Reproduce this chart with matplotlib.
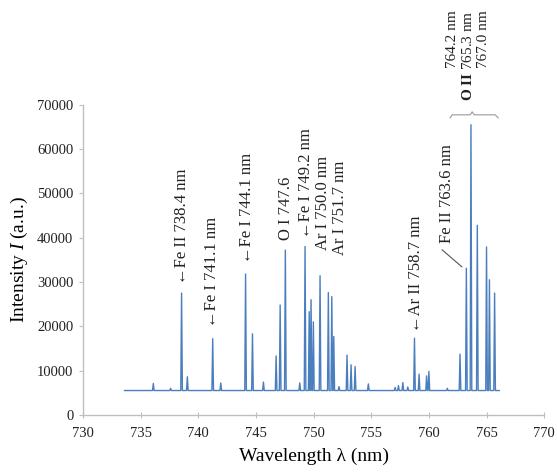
import numpy as np
import matplotlib
matplotlib.use("Agg")
import matplotlib.pyplot as plt

plt.rcParams['font.family'] = ['Liberation Serif', 'DejaVu Serif']
plt.rcParams['mathtext.fontset'] = 'custom'
plt.rcParams['mathtext.rm'] = 'Liberation Serif'
plt.rcParams['mathtext.it'] = 'Liberation Serif:italic'
plt.rcParams['mathtext.bf'] = 'Liberation Serif:bold'

## spectrum data
baseline = 5500
wl_start, wl_end = 733.6, 766.1
peak_wl = [736.1, 737.6, 738.55, 739.05, 741.25, 741.95, 744.1, 744.7, 745.65,
           746.75, 747.1, 747.55, 748.8, 749.26, 749.62, 749.78, 749.98, 750.56,
           751.28, 751.58, 751.75, 752.2, 752.9, 753.25, 753.6, 754.75,
           757.07, 757.36, 757.74, 758.17, 758.75, 759.15, 759.8, 760.0, 761.6,
           762.7, 763.25, 763.65, 764.2, 765.0, 765.25, 765.7]
peak_int = [7100, 6000, 27500, 8600, 17200, 7200, 31800, 18300, 7400,
            13300, 24800, 37200, 7200, 38000, 23300, 26000, 21000, 31400,
            27600, 26700, 17700, 6400, 13500, 11300, 10900, 7000,
            6200, 6600, 7300, 6300, 17300, 9200, 8800, 9800, 6000,
            13700, 33100, 65500, 42800, 37900, 30500, 27500]
half_w = 0.07

# polyline: baseline, then a spike per peak
xs = [wl_start]
ys = [baseline]
for c, h in zip(peak_wl, peak_int):
    xs += [c - half_w, c, c + half_w]
    ys += [baseline, h, baseline]
xs.append(wl_end)
ys.append(baseline)

fig = plt.figure(figsize=(5.57, 4.72), dpi=100)
ax = fig.add_axes([0.149, 0.121, 0.828, 0.657])
ax.plot(xs, ys, color='#4a7ebf', lw=1.0)

ax.set_xlim(730, 770)
ax.set_ylim(0, 70000)
ax.set_xticks(np.arange(730, 771, 5))
ax.set_yticks(np.arange(0, 70001, 10000))
for s in ['top', 'right']:
    ax.spines[s].set_visible(False)
for s in ['left', 'bottom']:
    ax.spines[s].set_color('#bfbfbf')
    ax.spines[s].set_linewidth(1.0)
ax.tick_params(axis='x', direction='inout', length=4, color='#bfbfbf',
               labelsize=10.5, pad=7, labelcolor='#222222')
ax.tick_params(axis='y', direction='out', length=3, color='#bfbfbf',
               labelsize=10.5, pad=4, labelcolor='#222222')
ax.set_xlabel(u'Wavelength λ (nm)', fontsize=14, labelpad=5)
ax.set_ylabel(r'Intensity $I$ (a.u.)', fontsize=14, labelpad=5)

# line labels (rotated, bottom anchored)
labels = [(738.59, 29600, u'\u2190Fe II 738.4 nm'),
          (741.19, 19900, u'\u2190Fe I 741.1 nm'),
          (744.23, 34300, u'\u2190Fe I 744.1 nm'),
          (747.61, 39500, 'O I 747.6'),
          (749.35, 40000, u'\u2190Fe I 749.2 nm'),
          (750.82, 37300, 'Ar I 750.0 nm'),
          (752.30, 36100, 'Ar I 751.7 nm'),
          (758.89, 18700, u'\u2190Ar II 758.7 nm'),
          (761.58, 38800, 'Fe II 763.6 nm')]
for x, y, t in labels:
    ax.text(x, y, t, rotation=90, ha='center', va='bottom', fontsize=12,
            color='#222222', clip_on=False)

ax.plot([761.15, 762.86], [37250, 33420], color='#555555', lw=0.8, clip_on=False)

# O II group on top, with a brace
top_labels = [(762.02, '764.2 nm'),
              (763.38, r'$\mathbf{O\ II}$ 765.3 nm'),
              (764.72, '767.0 nm')]
for x, t in top_labels:
    ax.text(x, 91400, t, rotation=90, ha='center', va='top', fontsize=11,
            color='#222222', clip_on=False)
bx = [761.84, 762.02, 763.58, 763.75, 763.93, 765.75, 766.01]
by = [67060, 67735, 67735, 68412, 67735, 67735, 67060]
ax.plot(bx, by, color='#999999', lw=0.8, clip_on=False)

plt.savefig('out.png', dpi=100)
